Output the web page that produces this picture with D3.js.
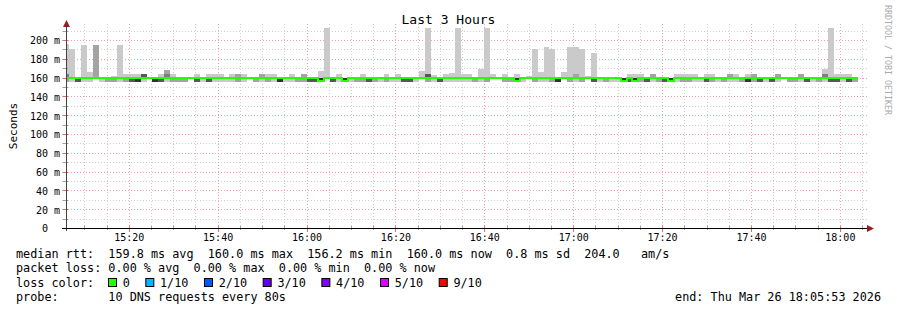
<!DOCTYPE html>
<html>
<head>
<meta charset="utf-8">
<title>Last 3 Hours</title>
<script src="https://cdnjs.cloudflare.com/ajax/libs/d3/7.8.5/d3.min.js"></script>
<style>
  body { margin: 0; background: #fff; }
  svg { display: block; }
  text { white-space: pre; }
</style>
</head>
<body>
<div id="ChartArea"></div>
<script>
// time range of the graph
const startTime = new Date(2026, 2, 26, 15, 5, 53);
const endTime = new Date(2026, 2, 26, 18, 5, 53);
const firstSlot = new Date(2026, 2, 26, 15, 5, 20);
const stepSeconds = 80;

// typical ping levels (ms)
const lowPing = 155.8, basePing = 160, highPing = 164;

// per 80s sample: highest ping (0 = none), how many pings reached it
const peakMs = [
  196, 190, 0, 195, 166, 195, 0, 0, 161.5, 195,
  0, 0, 0, 0, 0, 0, 0, 168, 0, 0,
  0, 0, 0, 0, 0, 0, 0, 0, 0, 0,
  0, 0, 0, 0, 0, 0, 0, 0, 0, 0,
  0, 0, 0, 167, 213, 0, 0, 0, 0, 0,
  0, 0, 0, 0, 0, 0, 0, 0, 0, 0,
  167, 213, 162.5, 0, 0, 165, 213, 0, 0, 0,
  169, 213, 0, 0, 0, 0, 0, 0, 161.5, 190,
  166, 192.6, 190, 0, 166, 192.5, 192.5, 190, 161.5, 186,
  0, 0, 0, 0, 0, 0, 0, 0, 0, 0,
  0, 0, 0, 0, 0, 0, 0, 0, 0, 0,
  0, 0, 0, 0, 0, 0, 0, 0, 0, 0,
  0, 0, 0, 0, 0, 0, 0, 0, 169, 213,
  0, 0, 0, 0
];
const peakCount = [
  1, 1, 0, 1, 1, 2, 0, 0, 1, 1,
  0, 0, 0, 0, 0, 0, 0, 2, 0, 0,
  0, 0, 0, 0, 0, 0, 0, 0, 0, 0,
  0, 0, 0, 0, 0, 0, 0, 0, 0, 0,
  0, 0, 0, 1, 1, 0, 0, 0, 0, 0,
  0, 0, 0, 0, 0, 0, 0, 0, 0, 0,
  1, 1, 1, 0, 0, 1, 1, 0, 0, 0,
  1, 1, 0, 0, 0, 0, 0, 0, 1, 1,
  1, 1, 1, 0, 1, 1, 1, 1, 1, 1,
  0, 0, 0, 0, 0, 0, 0, 0, 0, 0,
  0, 0, 0, 0, 0, 0, 0, 0, 0, 0,
  0, 0, 0, 0, 0, 0, 0, 0, 0, 0,
  0, 0, 0, 0, 0, 0, 0, 0, 1, 1,
  0, 0, 0, 0
];
// pings a little above the median
const highCount = [
  2, 0, 0, 0, 0, 0, 0, 0, 0, 0,
  1, 1, 1, 4, 0, 0, 1, 1, 1, 0,
  0, 0, 1, 0, 1, 1, 1, 0, 1, 2,
  1, 0, 0, 2, 1, 1, 0, 0, 1, 0,
  2, 0, 0, 0, 0, 0, 1, 0, 0, 0,
  1, 0, 0, 0, 1, 0, 1, 0, 0, 0,
  0, 3, 0, 0, 1, 0, 0, 1, 1, 0,
  0, 0, 1, 0, 1, 0, 1, 0, 0, 0,
  0, 0, 0, 0, 0, 0, 1, 0, 0, 0,
  0, 0, 0, 0, 0, 1, 1, 1, 0, 2,
  0, 0, 0, 1, 1, 1, 1, 0, 1, 1,
  0, 0, 2, 1, 0, 1, 2, 0, 0, 0,
  2, 0, 0, 0, 2, 0, 0, 0, 2, 0,
  1, 1, 1, 0
];
// pings a little below the median
const lowCount = [
  2, 1, 4, 1, 1, 0, 1, 2, 2, 1,
  2, 4, 5, 1, 0, 5, 4, 1, 2, 2,
  2, 0, 4, 1, 4, 1, 1, 1, 1, 2,
  1, 0, 2, 1, 2, 1, 5, 1, 1, 2,
  2, 4, 4, 5, 0, 4, 1, 5, 1, 2,
  2, 4, 2, 1, 2, 1, 1, 4, 4, 1,
  0, 2, 1, 4, 1, 1, 1, 1, 1, 2,
  1, 2, 0, 0, 2, 2, 5, 1, 0, 2,
  1, 1, 2, 5, 0, 2, 1, 2, 0, 4,
  1, 2, 1, 1, 5, 4, 5, 2, 4, 1,
  2, 4, 5, 1, 2, 2, 1, 1, 4, 2,
  1, 2, 1, 1, 2, 5, 2, 4, 1, 4,
  1, 0, 2, 2, 1, 4, 1, 2, 1, 4,
  4, 1, 4, 2
];
const medianMs = [
  160, 160, 160, 160, 160, 160, 160, 160, 160, 160,
  160, 160, 160, 160, 160, 160, 160, 160, 160, 160,
  160, 160, 160, 160, 160, 160, 160, 160, 160, 160,
  160, 160, 160, 160, 160, 160, 160, 160, 160, 160,
  160, 160, 160, 156.2, 160, 160, 160, 156.2, 160, 160,
  160, 160, 160, 160, 160, 160, 160, 160, 160, 160,
  160, 160, 160, 160, 160, 160, 160, 160, 160, 160,
  160, 160, 160, 160, 160, 160, 156.2, 160, 160, 160,
  160, 160, 160, 160, 160, 160, 160, 160, 160, 160,
  160, 160, 160, 160, 156.2, 160, 156.2, 160, 160, 160,
  160, 160, 156.2, 160, 160, 160, 160, 160, 160, 160,
  160, 160, 160, 160, 160, 160, 160, 160, 160, 160,
  160, 160, 160, 160, 160, 160, 160, 160, 160, 160,
  160, 160, 160, 160
];

const yTicks = [0, 20, 40, 60, 80, 100, 120, 140, 160, 180, 200];
const lossLabels = ["0", "1/10", "2/10", "3/10", "4/10", "5/10", "9/10"];
const lossColors = ["#26ff00", "#00b8ff", "#0059ff", "#5e00ff", "#7e00ff", "#dd00ff", "#ff0000"];

const statsRtt = "median rtt:  159.8 ms avg  160.0 ms max  156.2 ms min  160.0 ms now  0.8 ms sd  204.0   am/s";
const statsLoss = "packet loss: 0.00 % avg  0.00 % max  0.00 % min  0.00 % now";
const probeText = "probe:       10 DNS requests every 80s";
const endText = "end: Thu Mar 26 18:05:53 2026";

const width = 897, height = 310;
const plotLeft = 66, plotRight = 866, plotTop = 24, plotBottom = 228;
const mono = "'DejaVu Sans Mono', monospace";
const cw = 7.12; // legend char advance

const svg = d3.select("#ChartArea").append("svg")
  .attr("width", width)
  .attr("height", height)
  .style("font-family", mono);

const x = d3.scaleTime().domain([startTime, endTime]).range([plotLeft, plotRight]);
const y = d3.scaleLinear().domain([0, 217]).range([plotBottom, plotTop]);
const px = v => Math.round(v) + 0.5;

// grid
const grid = svg.append("g");
grid.selectAll(".hmin").data(d3.range(0, 211, 10)).enter().append("line")
  .attr("x1", 62).attr("x2", 868)
  .attr("y1", d => px(y(d))).attr("y2", d => px(y(d)))
  .attr("stroke", d => d % 20 === 0 ? "#f0a0a0" : "#cfcfcf")
  .attr("stroke-dasharray", "1,2");
grid.selectAll(".vmin").data(d3.timeMinute.every(5).range(startTime, endTime)).enter().append("line")
  .attr("x1", d => px(x(d))).attr("x2", d => px(x(d)))
  .attr("y1", plotTop).attr("y2", plotBottom + 2)
  .attr("stroke", d => d.getMinutes() % 20 === 0 ? "#f0a0a0" : "#cfcfcf")
  .attr("stroke-dasharray", "1,2");

// smoke
const slots = medianMs.map((m, i) => {
  const pings = [];
  for (let k = 0; k < lowCount[i]; k++) pings.push(lowPing);
  for (let k = 0; k < highCount[i]; k++) pings.push(highPing);
  for (let k = 0; k < peakCount[i]; k++) pings.push(peakMs[i]);
  while (pings.length < 10) pings.push(basePing);
  pings.sort((a, b) => a - b);
  return {
    t0: d3.timeSecond.offset(firstSlot, i * stepSeconds),
    t1: d3.timeSecond.offset(firstSlot, (i + 1) * stepSeconds),
    pings: pings,
    median: m
  };
});

svg.append("clipPath").attr("id", "plotClip")
  .append("rect").attr("x", plotLeft).attr("y", plotTop)
  .attr("width", plotRight - plotLeft).attr("height", plotBottom - plotTop);

const plot = svg.append("g").attr("clip-path", "url(#plotClip)");
const smokeGray = k => { const g = Math.round(190 / 5 * (5 - k) + 50); return `rgb(${g},${g},${g})`; };

slots.forEach(s => {
  for (let k = 1; k <= 5; k++) {
    const lo = s.pings[k - 1], hi = s.pings[10 - k];
    if (hi <= lo) continue;
    plot.append("rect")
      .attr("x", Math.round(x(s.t0)))
      .attr("width", Math.round(x(s.t1)) - Math.round(x(s.t0)))
      .attr("y", Math.round(y(hi)))
      .attr("height", Math.max(1, Math.round(y(lo)) - Math.round(y(hi))))
      .attr("fill", smokeGray(k))
      .attr("shape-rendering", "crispEdges");
  }
});

// median line (snapped to whole pixels so it stays crisp)
const medPts = [];
slots.forEach(s => {
  const my = Math.round(y(s.median));
  medPts.push([Math.round(x(s.t0)), my]);
  medPts.push([Math.round(x(s.t1)), my]);
});
plot.append("path")
  .attr("d", d3.line()(medPts))
  .attr("fill", "none")
  .attr("stroke", lossColors[0])
  .attr("stroke-width", 2)
  .attr("shape-rendering", "crispEdges");

// axes
const yAxis = svg.append("g").attr("transform", `translate(${plotLeft},0)`)
  .call(d3.axisLeft(y).tickValues(yTicks).tickSize(0).tickPadding(6)
    .tickFormat(d => d === 0 ? "0  " : d + " m"));
yAxis.select(".domain").remove();
yAxis.selectAll("text").attr("font-family", mono).attr("font-size", 10).attr("fill", "#000").attr("dy", "0.38em");

const xAxis = svg.append("g").attr("transform", `translate(0,${plotBottom})`)
  .call(d3.axisBottom(x).ticks(d3.timeMinute.every(20)).tickSize(0).tickPadding(6)
    .tickFormat(d3.timeFormat("%H:%M")));
xAxis.select(".domain").remove();
xAxis.selectAll("text").attr("font-family", mono).attr("font-size", 10).attr("fill", "#000");

// tick marks
svg.selectAll(".xtick").data(d3.timeMinute.every(5).range(startTime, endTime)).enter().append("line")
  .attr("x1", d => px(x(d))).attr("x2", d => px(x(d)))
  .attr("y1", plotBottom - 2).attr("y2", d => d.getMinutes() % 20 === 0 ? plotBottom + 4 : plotBottom + 2)
  .attr("stroke", d => d.getMinutes() % 20 === 0 ? "#e07070" : "#a0a0a0");
svg.selectAll(".ytick").data(d3.range(0, 211, 10)).enter().append("line")
  .attr("x1", plotLeft - 3).attr("x2", plotLeft + 2)
  .attr("y1", d => px(y(d))).attr("y2", d => px(y(d)))
  .attr("stroke", d => d % 20 === 0 ? "#e07070" : "#a0a0a0");

svg.append("line").attr("x1", plotLeft + 0.5).attr("x2", plotLeft + 0.5)
  .attr("y1", plotBottom + 3).attr("y2", 24).attr("stroke", "#444");
svg.append("line").attr("x1", 62).attr("x2", 869)
  .attr("y1", plotBottom + 0.5).attr("y2", plotBottom + 0.5).attr("stroke", "#000");
svg.append("path").attr("d", `M${plotLeft + 0.5},20 L${plotLeft - 3},27 L${plotLeft + 4},27 Z`).attr("fill", "#9a1c1c");
svg.append("path").attr("d", `M874,${plotBottom + 0.5} L867,${plotBottom - 3} L867,${plotBottom + 4} Z`).attr("fill", "#9a1c1c");

// titles
svg.append("text").attr("x", 448.5).attr("y", 24).attr("text-anchor", "middle")
  .attr("font-size", 13).text("Last 3 Hours");
svg.append("text").attr("transform", "translate(16.5,126) rotate(-90)").attr("text-anchor", "middle")
  .attr("font-size", 11).text("Seconds");
svg.append("text").attr("transform", "translate(884.5,5) rotate(90)")
  .attr("font-size", 8.3).attr("fill", "#aaaaaa").text("RRDTOOL / TOBI OETIKER");

// legend
const legend = svg.append("g").attr("font-size", 11.8).attr("fill", "#000");
legend.append("text").attr("x", 16).attr("y", 258.3).text(statsRtt);
legend.append("text").attr("x", 16).attr("y", 272.4).text(statsLoss);
legend.append("text").attr("x", 16).attr("y", 286.5).text("loss color:");
legend.append("text").attr("x", 16).attr("y", 300.6).text(probeText);
legend.append("text").attr("x", 881).attr("y", 300.6).attr("text-anchor", "end").text(endText);

let bx = 108;
lossLabels.forEach((lab, i) => {
  legend.append("rect").attr("x", bx + 0.5).attr("y", 278.5).attr("width", 8).attr("height", 8)
    .attr("fill", lossColors[i]).attr("stroke", "#000");
  legend.append("text").attr("x", bx + 14.7).attr("y", 286.5).text(lab);
  bx = bx + 14.7 + lab.length * cw + 15.5;
});
</script>
</body>
</html>
